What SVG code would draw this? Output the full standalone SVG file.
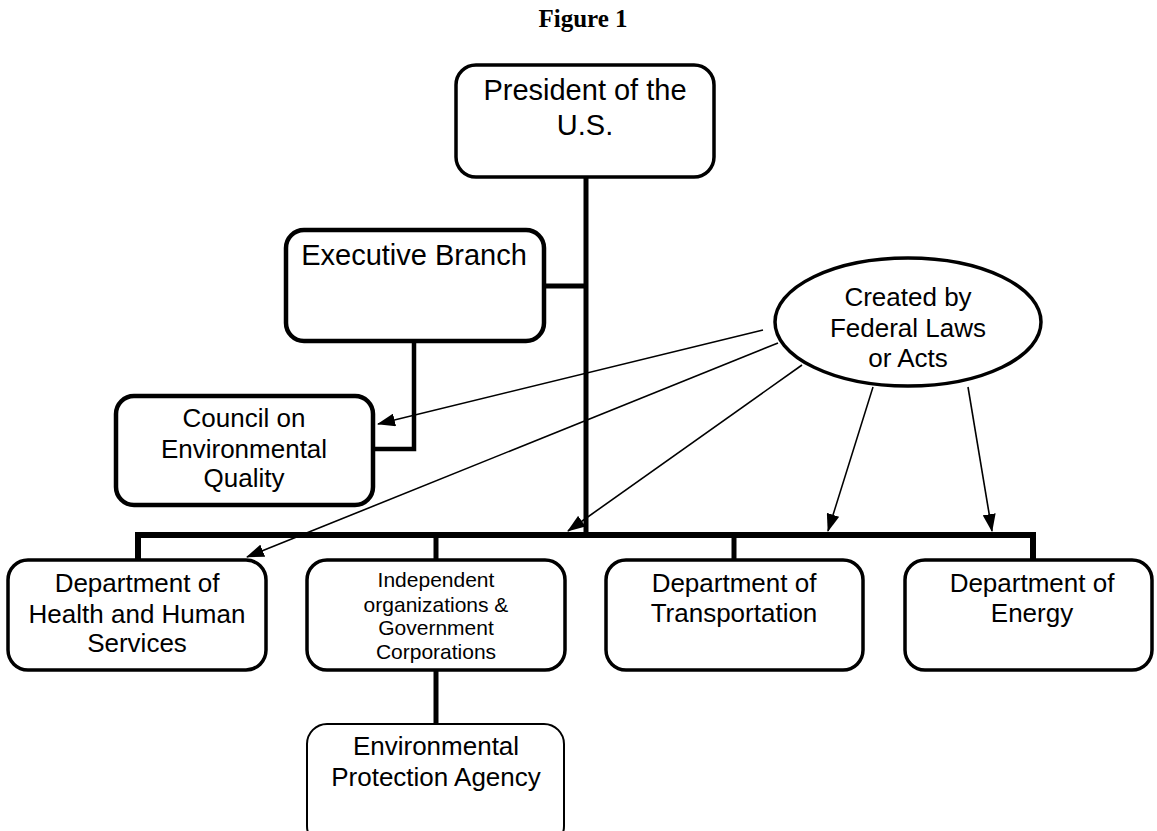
<svg xmlns="http://www.w3.org/2000/svg" width="1157" height="831" viewBox="0 0 1157 831">
<style>
  .box { fill: #fff; stroke: #000; }
  .t { font-family: "Liberation Sans", Arial, sans-serif; fill: #000; text-anchor: middle; }
  .bar { stroke: #000; fill: none; stroke-linecap: butt; stroke-linejoin: miter; }
  .arr { stroke: #000; stroke-width: 1.6; fill: none; marker-end: url(#ah); }
</style>
<defs>
  <marker id="ah" markerWidth="18" markerHeight="13" refX="17" refY="6.5" orient="auto" markerUnits="userSpaceOnUse">
    <path d="M0,0 L18,6.5 L0,13 Z" fill="#000"/>
  </marker>
</defs>
<rect width="1157" height="831" fill="#fff"/>
<text x="583" y="27" font-family="'Liberation Serif', 'Times New Roman', serif" font-weight="bold" font-size="25" text-anchor="middle">Figure 1</text>

<g id="connectors">
  <path class="bar" stroke-width="5" d="M586,177 V538"/>
  <path class="bar" stroke-width="5" d="M544,286 H586"/>
  <path class="bar" stroke-width="4.5" d="M414,341 V449 H373"/>
  <path class="bar" stroke-width="6" d="M138,559 V535 H1033 V559"/>
  <path class="bar" stroke-width="5" d="M436,535 V559"/>
  <path class="bar" stroke-width="5" d="M734,535 V559"/>
  <path class="bar" stroke-width="5" d="M436,670 V724"/>
  <line class="arr" x1="763" y1="330" x2="378" y2="424"/>
  <line class="arr" x1="778" y1="343" x2="247" y2="557"/>
  <line class="arr" x1="802" y1="365" x2="568" y2="531"/>
  <line class="arr" x1="873" y1="387" x2="828" y2="531"/>
  <line class="arr" x1="968" y1="387" x2="992" y2="531"/>
</g>

<g id="president">
  <rect class="box" x="456" y="65" width="258" height="112" rx="20" stroke-width="3.5"/>
  <text class="t" x="585" y="100" font-size="29">President of the</text>
  <text class="t" x="585" y="135" font-size="29">U.S.</text>
</g>

<g id="executive">
  <rect class="box" x="286" y="230" width="258" height="111" rx="18" stroke-width="4.5"/>
  <text class="t" x="414" y="265" font-size="29">Executive Branch</text>
</g>

<g id="council">
  <rect class="box" x="116" y="396" width="257" height="109" rx="18" stroke-width="4.5"/>
  <text class="t" x="244" y="427" font-size="26">Council on</text>
  <text class="t" x="244" y="458" font-size="26">Environmental</text>
  <text class="t" x="244" y="487" font-size="26">Quality</text>
</g>

<g id="federal-laws">
  <ellipse class="box" cx="908" cy="322" rx="133" ry="64" stroke-width="3.5"/>
  <text class="t" x="908" y="306" font-size="26">Created by</text>
  <text class="t" x="908" y="337" font-size="26">Federal Laws</text>
  <text class="t" x="908" y="367" font-size="26">or Acts</text>
</g>

<g id="health">
  <rect class="box" x="8" y="560" width="258" height="110" rx="20" stroke-width="3.5"/>
  <text class="t" x="137" y="592" font-size="26">Department of</text>
  <text class="t" x="137" y="623" font-size="26">Health and Human</text>
  <text class="t" x="137" y="652" font-size="26">Services</text>
</g>

<g id="independent">
  <rect class="box" x="307" y="560" width="258" height="110" rx="20" stroke-width="3.5"/>
  <text class="t" x="436" y="587" font-size="21">Independent</text>
  <text class="t" x="436" y="612" font-size="21">organizations &amp;</text>
  <text class="t" x="436" y="635" font-size="21">Government</text>
  <text class="t" x="436" y="659" font-size="21">Corporations</text>
</g>

<g id="transportation">
  <rect class="box" x="606" y="560" width="257" height="110" rx="20" stroke-width="3.5"/>
  <text class="t" x="734" y="592" font-size="26">Department of</text>
  <text class="t" x="734" y="622" font-size="26">Transportation</text>
</g>

<g id="energy">
  <rect class="box" x="905" y="560" width="247" height="110" rx="20" stroke-width="3.5"/>
  <text class="t" x="1032" y="592" font-size="26">Department of</text>
  <text class="t" x="1032" y="622" font-size="26">Energy</text>
</g>

<g id="epa">
  <rect class="box" x="307" y="724" width="257" height="122" rx="20" stroke-width="2"/>
  <text class="t" x="436" y="755" font-size="26">Environmental</text>
  <text class="t" x="436" y="786" font-size="26">Protection Agency</text>
</g>
</svg>
